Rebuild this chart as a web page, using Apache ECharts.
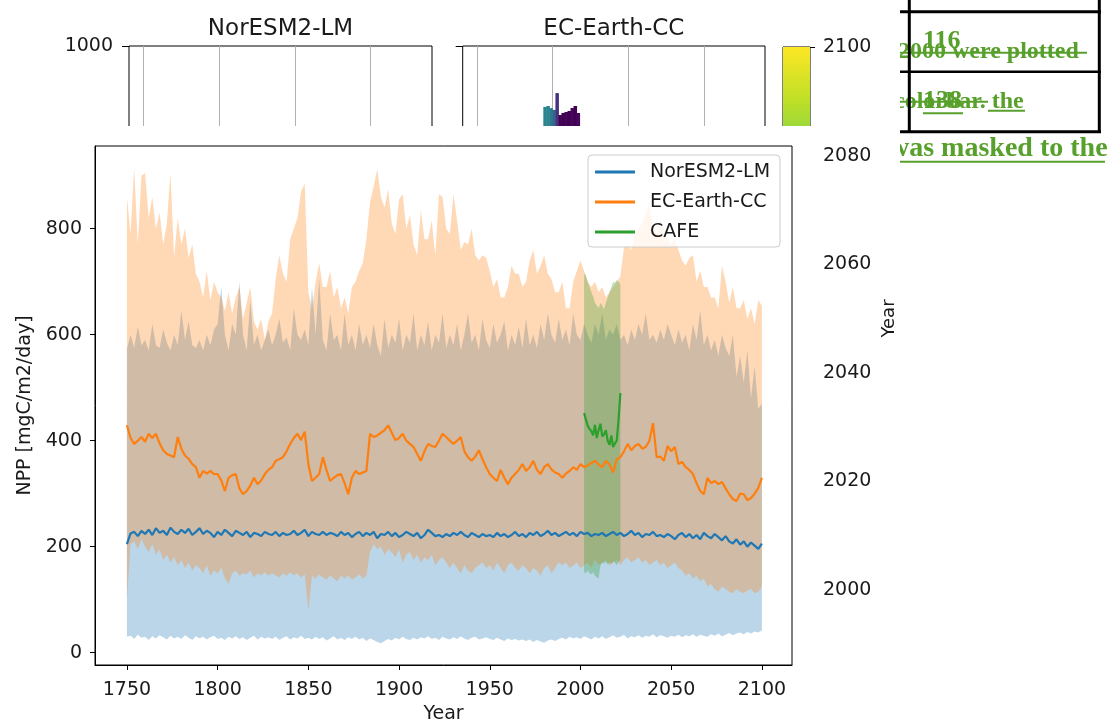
<!DOCTYPE html>
<html><head><meta charset="utf-8">
<script src="https://cdn.jsdelivr.net/npm/echarts@6/dist/echarts.min.js"></script>
<style>html,body{margin:0;padding:0;background:#fff}#c{width:1112px;height:727px}</style>
</head><body><div id="c"></div>
<script>
// ---------- DATA ----------
const YEARS = [];
for (let y = 1750; y <= 2100; y += 2) YEARS.push(y);

const NOR_MEAN = [205,225,228,220,230,224,232,222,235,226, 230,222,236,228,224,232,226,234,222,228,
 235,224,230,226,218,228,222,232,226,220, 230,226,222,228,218,226,224,220,228,224,
 222,228,220,226,222,224,230,222,226,232, 220,228,224,222,228,222,226,224,220,228,
 222,226,218,224,228,220,226,222,228,216, 224,222,228,220,226,218,222,228,224,220,
 226,216,222,232,226,220,222,218,224,220, 226,222,228,222,218,226,222,218,224,220,
 222,218,226,220,224,218,222,228,220,224, 218,226,222,228,220,224,230,222,226,220,
 224,228,222,226,220,228,224,226,220,224, 222,226,220,224,228,222,226,220,224,230,
 222,226,218,224,222,228,220,222,218,224, 220,214,222,226,218,224,216,222,214,226,
 220,216,224,218,212,220,210,206,214,204, 210,200,208,202,196,206];
const NOR_MIN = [30,32,26,34,28,30,24,31,27,33, 29,25,32,27,30,26,33,28,24,31,
 27,30,25,29,32,26,28,24,30,27, 31,26,29,24,28,32,25,30,27,29,
 26,30,24,28,31,25,29,27,32,26, 28,25,30,26,29,23,27,31,25,28,
 24,29,26,30,25,28,22,27,24,20, 18,22,26,23,28,25,30,26,24,28,
 25,29,27,31,26,28,24,30,27,25, 29,26,31,27,24,28,30,25,27,29,
 26,24,28,25,22,27,24,26,23,25, 22,25,20,24,21,19,23,25,22,26,
 28,25,30,27,29,26,31,28,25,30, 27,31,26,29,33,28,30,34,27,31,
 29,33,28,32,30,35,29,33,31,28, 32,30,34,29,33,31,35,30,34,32,
 30,35,32,36,31,34,37,33,36,38, 35,39,36,40,38,42];
const NOR_MAX = [573,600,575,615,580,590,570,620,580,575, 610,585,570,600,580,645,590,625,580,575,
 590,570,600,580,610,620,690,600,570,620, 600,700,600,570,665,580,600,570,590,610,
 580,600,630,585,595,570,650,600,590,610, 580,690,600,705,590,570,640,590,600,570,
 640,580,600,570,620,580,600,575,620,580, 560,630,575,600,585,630,570,600,585,640,
 570,600,580,625,570,600,585,640,575,600, 580,620,570,600,640,585,600,570,630,590,
 575,620,585,600,625,570,600,580,615,575, 630,580,600,575,620,590,640,600,585,630,
 590,610,580,640,600,590,620,600,585,620, 600,640,590,610,600,620,590,600,580,610,
 590,620,600,640,590,600,585,610,590,620, 600,580,610,585,600,570,620,590,645,580,
 600,570,590,560,600,575,560,600,520,560, 510,570,480,540,460,470];

const EC_MEAN = [429,405,394,400,407,398,413,405,413,395, 382,375,372,369,407,385,372,366,356,350,
 330,343,338,343,337,337,325,305,330,335, 337,310,299,305,315,330,318,325,337,345,
 350,362,365,369,380,394,405,413,401,417, 356,324,330,337,369,345,324,330,335,337,
 320,299,330,343,337,340,343,413,407,410, 415,420,429,415,401,405,413,400,394,388,
 375,362,380,394,390,388,400,413,407,400, 394,400,407,380,369,362,370,382,365,350,
 337,330,324,345,330,318,330,337,345,356, 343,350,362,345,337,350,356,346,340,337,
 330,338,343,350,345,356,350,353,358,362, 355,350,362,355,340,365,369,380,394,382,
 390,394,385,388,400,433,369,370,362,390, 380,388,356,360,350,345,337,320,305,299,
 330,320,324,318,322,310,299,290,286,300, 299,288,292,300,311,330];
const EC_MIN = [100,205,210,195,215,200,190,205,185,195, 175,185,170,180,165,175,160,170,155,165,
 160,150,165,145,155,150,160,140,130,150, 155,145,150,148,155,142,150,146,152,145,
 150,146,142,150,145,152,146,150,142,148, 80,145,140,148,142,138,146,140,135,145,
 140,146,138,142,148,140,145,190,205,195, 200,185,195,190,180,195,170,185,190,175,
 185,170,180,175,185,165,175,180,170,160, 170,160,150,165,155,150,160,165,170,160,
 165,155,170,160,150,165,170,160,155,165, 160,150,160,155,145,160,165,150,160,170,
 165,170,160,165,170,160,165,170,160,175, 165,170,175,165,170,175,165,175,180,170,
 175,180,170,175,165,170,175,165,170,160, 165,170,160,155,145,150,140,145,135,140,
 125,130,120,115,125,120,115,112,120,115, 112,118,120,112,115,125];
const EC_MAX = [860,790,915,770,900,905,820,860,800,830, 770,810,905,745,820,770,800,745,770,715,
 700,670,720,665,700,680,670,645,680,640, 670,690,630,660,690,625,610,630,590,625,
 640,705,750,715,700,780,800,820,870,885, 680,650,700,735,690,690,720,670,690,650,
 670,640,690,700,720,735,780,850,880,912, 860,840,875,810,790,855,865,800,825,770,
 750,835,780,780,815,750,865,860,800,790, 865,815,760,775,770,800,750,740,750,745,
 720,690,705,670,670,690,730,715,715,690, 700,740,760,715,730,750,715,705,680,680,
 700,650,650,700,720,740,720,700,690,700, 680,690,670,680,690,700,710,765,770,760,
 790,800,810,830,845,810,790,820,790,780, 770,780,760,740,730,745,750,700,720,690,
 690,670,670,650,730,700,660,690,650,650, 665,630,650,620,665,655];

const CAFE_YEARS = [2002,2003,2004,2005,2006,2007,2008,2009,2010,2011,2012,2013,2014,2015,2016,2017,2018,2019,2020,2021,2022];
const CAFE_MEAN = [452,440,428,422,418,410,430,405,420,432,408,412,420,400,392,410,388,395,400,440,490];
const CAFE_MIN = [152,150,155,150,148,152,145,142,140,165,170,168,172,166,170,168,172,170,165,172,175];
const CAFE_MAX = [715,712,700,690,680,672,660,655,650,660,655,648,660,670,680,690,700,698,703,700,695];

const X_TICKS = [1750,1800,1850,1900,1950,2000,2050,2100];
const Y_TICKS = [0,200,400,600,800];
const COLORBAR_RANGE = [2000, 2100];
const PANEL_TITLES = ['NorESM2-LM', 'EC-Earth-CC'];
const PANEL_GRID_X = [0,100,200,300];
const PANEL2_X = [90,94,98,102,106,110,114,118,122,126,130,134];
const PANEL2_H = [797,800,793,787,843,770,777,780,783,793,800,777];
const LEGEND = ['NorESM2-LM','EC-Earth-CC','CAFE'];

// ---------- STYLE ----------
const C_BLUE = '#1f77b4', C_ORANGE = '#ff7f0e', C_GREEN = '#2ca02c';
const F_BLUE = 'rgba(31,119,180,0.3)', F_ORANGE = 'rgba(255,127,14,0.3)', F_GREEN = 'rgba(44,160,44,0.3)';
const PANEL2_COLORS = ['#2a858e','#2a858e','#2c7a8e','#33648d','#46337e','#440154','#440154','#450559','#440154','#46085c','#440154','#46085c'];
const TXT = '#1a1a1a';
const FONT = 'DejaVu Sans';
const GREEN_TXT = '#58a02c';
const VIRIDIS = ['#fde725','#bddf26','#7ad151','#44bf70','#22a884','#21918c','#2a788e','#355f8d','#414487','#482475','#440154'];
const plain = v => String(v);

const pairs = (xs, vs) => xs.map((x, i) => [x, vs[i]]);

// min-max band drawn as a polygon through the cartesian scale
function band(name, xs, lo, hi, fill, z) {
  return {
    type:'custom', name, xAxisIndex:0, yAxisIndex:0, z, silent:true, clip:true,
    data:pairs(xs, lo).slice(0, 1),
    renderItem:(params, api) => {
      const pts = [];
      for (let i = 0; i < xs.length; i++) pts.push(api.coord([xs[i], hi[i]]));
      for (let i = xs.length - 1; i >= 0; i--) pts.push(api.coord([xs[i], lo[i]]));
      return {type:'polygon', shape:{points:pts}, style:{fill}};
    }
  };
}

const panelX = (i, title) => ({
  type:'value', gridIndex:i, position:'top', min:-19, max:381,
  axisLine:{show:false, onZero:false}, axisLabel:{show:false},
  axisTick:{show:false, customValues:PANEL_GRID_X},
  splitLine:{show:true, lineStyle:{color:'#b0b0b0', width:1}},
  name:title, nameLocation:'middle', nameGap:5,
  nameTextStyle:{fontSize:23, color:TXT, fontFamily:FONT}
});
const panelY = (i, labels) => ({
  type:'value', gridIndex:i, min:0, max:1000, interval:500,
  axisLine:{show:false, onZero:false}, splitLine:{show:false},
  axisTick:{show:true, length:7, lineStyle:{color:'#000'}},
  axisLabel:{show:labels, fontSize:19, color:TXT, margin:16, fontFamily:FONT, formatter:plain}
});
const gridBase = {show:true, borderColor:'#000', borderWidth:1, containLabel:false, outerBoundsMode:'none'};

const option = {
  animation:false,
  textStyle:{fontFamily:FONT},
  grid:[
    Object.assign({left:95, top:146, width:697, height:519, z:11}, gridBase),
    Object.assign({left:129, top:46, width:303, height:300}, gridBase),
    Object.assign({left:462.7, top:46, width:302.3, height:300}, gridBase),
    Object.assign({left:783, top:47, width:27, height:543}, gridBase)
  ],
  xAxis:[
    {type:'value', gridIndex:0, min:1732.4, max:2116.6, z:11,
     axisLine:{show:true, onZero:false, lineStyle:{color:'#000'}},
     axisTick:{show:true, length:5, customValues:X_TICKS, lineStyle:{color:'#000'}},
     axisLabel:{fontSize:19, color:TXT, margin:16, customValues:X_TICKS, formatter:plain},
     splitLine:{show:false},
     name:'Year', nameLocation:'middle', nameGap:39, nameTextStyle:{fontSize:19, color:TXT}},
    panelX(1, PANEL_TITLES[0]),
    panelX(2, PANEL_TITLES[1]),
    {type:'category', gridIndex:3, data:['cb'], show:false}
  ],
  yAxis:[
    {type:'value', gridIndex:0, min:-23.2, max:956, z:11,
     axisLine:{show:true, onZero:false, lineStyle:{color:'#000'}},
     axisTick:{show:true, length:5, customValues:Y_TICKS, lineStyle:{color:'#000'}},
     axisLabel:{fontSize:19, color:TXT, margin:13, customValues:Y_TICKS, formatter:plain},
     splitLine:{show:false},
     name:'NPP [mgC/m2/day]', nameLocation:'middle', nameRotate:90, nameGap:60,
     nameTextStyle:{fontSize:19, color:TXT}},
    panelY(1, true),
    panelY(2, false),
    {type:'value', gridIndex:3, position:'right', min:COLORBAR_RANGE[0], max:COLORBAR_RANGE[1], interval:20,
     axisLine:{show:false, onZero:false}, splitLine:{show:false},
     axisTick:{show:true, length:5, lineStyle:{color:'#000'}},
     axisLabel:{fontSize:19, color:TXT, margin:13, formatter:plain},
     name:'Year', nameLocation:'middle', nameRotate:90, nameGap:70,
     nameTextStyle:{fontSize:18, color:TXT}}
  ],
  legend:{
    data:LEGEND, orient:'vertical', left:588, top:155, z:40, selectedMode:false,
    icon:'rect', itemWidth:40, itemHeight:3, itemGap:10,
    padding:[7,10,5,7],
    textStyle:{fontSize:19, color:TXT, lineHeight:20, padding:[0,0,0,10]},
    backgroundColor:'rgba(255,255,255,0.8)', borderColor:'#cccccc', borderWidth:1, borderRadius:4
  },
  series:[
    {type:'bar', xAxisIndex:2, yAxisIndex:2, z:1, barWidth:3.5, silent:true,
     data:PANEL2_X.map((x,i)=>({value:[x, PANEL2_H[i]], itemStyle:{color:PANEL2_COLORS[i]}}))},
    {type:'bar', xAxisIndex:3, yAxisIndex:3, stack:'cb', z:1, barWidth:'100%', silent:true,
     itemStyle:{color:'rgba(0,0,0,0)'}, data:[COLORBAR_RANGE[0]]},
    {type:'bar', xAxisIndex:3, yAxisIndex:3, stack:'cb', z:1, barWidth:'100%', silent:true,
     itemStyle:{color:new echarts.graphic.LinearGradient(0,0,0,1, VIRIDIS.map((c,i)=>({offset:i/(VIRIDIS.length-1), color:c})))},
     data:[COLORBAR_RANGE[1]-COLORBAR_RANGE[0]]},
    band('NorESM2-LM range', YEARS, NOR_MIN, NOR_MAX, F_BLUE, 20),
    band('EC-Earth-CC range', YEARS, EC_MIN, EC_MAX, F_ORANGE, 21),
    band('CAFE range', CAFE_YEARS, CAFE_MIN, CAFE_MAX, F_GREEN, 22),
    {type:'line', name:'NorESM2-LM', data:pairs(YEARS, NOR_MEAN), symbol:'none', z:25, color:C_BLUE,
     lineStyle:{width:2.2, color:C_BLUE}, itemStyle:{color:C_BLUE}},
    {type:'line', name:'EC-Earth-CC', data:pairs(YEARS, EC_MEAN), symbol:'none', z:26, color:C_ORANGE,
     lineStyle:{width:2.2, color:C_ORANGE}, itemStyle:{color:C_ORANGE}},
    {type:'line', name:'CAFE', data:pairs(CAFE_YEARS, CAFE_MEAN), symbol:'none', z:27, color:C_GREEN,
     lineStyle:{width:2.2, color:C_GREEN}, itemStyle:{color:C_GREEN}}
  ],
  graphic:{elements:[
    {type:'rect', z:5, silent:true, shape:{x:0, y:126, width:818, height:601}, style:{fill:'#fff'}},
    // document fragment (top right)
    {type:'text', z:30, x:898, y:51.5, style:{text:'2000 were plotted', font:'bold 24px "Liberation Serif"', fill:GREEN_TXT, verticalAlign:'middle'}},
    {type:'text', z:30, x:923, y:41.5, style:{text:'116', font:'bold 26px "Liberation Serif"', fill:GREEN_TXT, verticalAlign:'middle'}},
    {type:'text', z:30, x:894, y:101.4, style:{text:'colorbar. the', font:'bold 24px "Liberation Serif"', fill:GREEN_TXT, verticalAlign:'middle'}},
    {type:'text', z:30, x:923, y:101.5, style:{text:'138', font:'bold 26px "Liberation Serif"', fill:GREEN_TXT, verticalAlign:'middle'}},
    {type:'text', z:30, x:889, y:149, style:{text:'was masked to the', font:'bold 28px "Liberation Serif"', fill:GREEN_TXT, verticalAlign:'middle'}},
    {type:'line', z:30, shape:{x1:900, y1:52.7, x2:1087, y2:52.7}, style:{stroke:GREEN_TXT, lineWidth:2}},
    {type:'line', z:30, shape:{x1:900, y1:101.7, x2:988, y2:101.7}, style:{stroke:GREEN_TXT, lineWidth:2}},
    {type:'line', z:30, shape:{x1:988, y1:110.7, x2:1025, y2:110.7}, style:{stroke:GREEN_TXT, lineWidth:2}},
    {type:'line', z:30, shape:{x1:923, y1:113.3, x2:963, y2:113.3}, style:{stroke:GREEN_TXT, lineWidth:2}},
    {type:'line', z:30, shape:{x1:900, y1:161.7, x2:1105, y2:161.7}, style:{stroke:GREEN_TXT, lineWidth:2}},
    {type:'rect', z:31, silent:true, shape:{x:874, y:20, width:26, height:150}, style:{fill:'#fff'}},
    {type:'line', z:32, shape:{x1:900, y1:11.7, x2:1101, y2:11.7}, style:{stroke:'#000', lineWidth:3}},
    {type:'line', z:32, shape:{x1:900, y1:71.7, x2:1101, y2:71.7}, style:{stroke:'#000', lineWidth:2.5}},
    {type:'line', z:32, shape:{x1:900, y1:131.7, x2:1101, y2:131.7}, style:{stroke:'#000', lineWidth:3}},
    {type:'line', z:32, shape:{x1:909.3, y1:0, x2:909.3, y2:133}, style:{stroke:'#000', lineWidth:3}},
    {type:'line', z:32, shape:{x1:1099.3, y1:0, x2:1099.3, y2:133}, style:{stroke:'#000', lineWidth:3}}
  ]}
};
const chart = echarts.init(document.getElementById('c'), null, {renderer:'canvas'});
chart.setOption(option);
</script></body></html>
